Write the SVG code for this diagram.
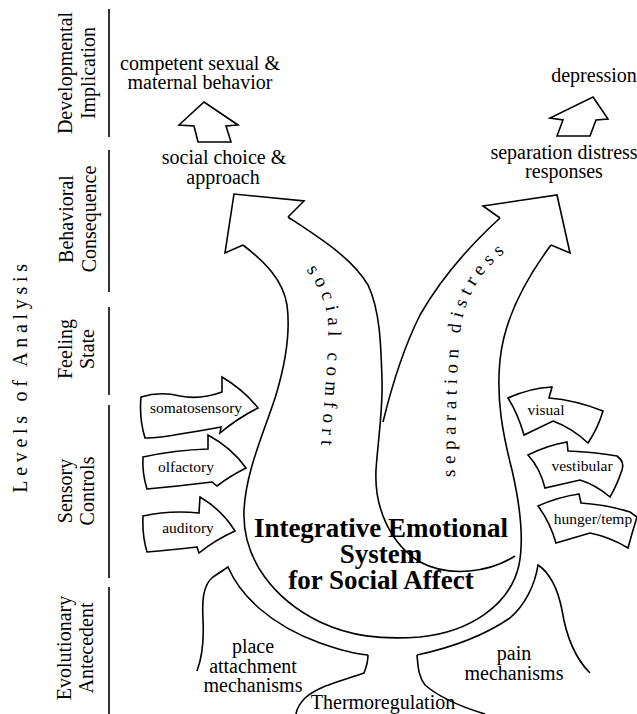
<svg xmlns="http://www.w3.org/2000/svg" width="637" height="714" viewBox="0 0 637 714">
<style>
.t{font-family:"Liberation Serif","Times New Roman","DejaVu Serif",serif;font-size:20px;fill:#000}
.m{text-anchor:middle}
.sm{font-size:15.5px}
.b{font-weight:bold;font-size:27px}
.sp{font-size:19px;letter-spacing:5.5px}
.ln{fill:none;stroke:#000;stroke-width:1.6;stroke-linejoin:miter}
.ar{fill:#fff;stroke:#000;stroke-width:1.6;stroke-linejoin:miter}
</style>
<defs>
<path id="pc" d="M 300,262 C 315,280 327,300 328,325 C 329,360 324,400 320,460"/>
<path id="pd" d="M 455,485 C 455,420 457,350 462,320 C 470,285 490,260 520,242"/>
</defs>
<rect width="637" height="714" fill="#fff"/>

<g id="levels">
<text class="t" letter-spacing="4.7" transform="translate(27,376) rotate(-90)" text-anchor="middle" font-size="19">Levels of Analysis</text>
<g id="lvl-dev">
<line class="ln" x1="109" y1="9" x2="109" y2="137"/>
<text class="t m" transform="translate(72,73) rotate(-90)"><tspan x="0" y="0">Developmental</tspan><tspan x="0" y="23">Implication</tspan></text>
</g>
<g id="lvl-beh">
<line class="ln" x1="109" y1="150" x2="109" y2="292"/>
<text class="t m" transform="translate(73,219) rotate(-90)"><tspan x="0" y="0">Behavioral</tspan><tspan x="0" y="23">Consequence</tspan></text>
</g>
<g id="lvl-feel">
<line class="ln" x1="109" y1="307" x2="109" y2="395"/>
<text class="t m" transform="translate(72,349) rotate(-90)"><tspan x="0" y="0">Feeling</tspan><tspan x="0" y="22">State</tspan></text>
</g>
<g id="lvl-sens">
<line class="ln" x1="109" y1="405" x2="109" y2="578"/>
<text class="t m" transform="translate(72,491) rotate(-90)"><tspan x="0" y="0">Sensory</tspan><tspan x="0" y="22">Controls</tspan></text>
</g>
<g id="lvl-evo">
<line class="ln" x1="109" y1="587" x2="109" y2="714"/>
<text class="t m" transform="translate(71,648) rotate(-90)"><tspan x="0" y="0">Evolutionary</tspan><tspan x="0" y="22">Antecedent</tspan></text>
</g>
</g>

<g id="top-left">
<text class="t m" x="200" y="70">competent sexual &amp;</text>
<text class="t m" x="200" y="89">maternal behavior</text>
<path class="ar" d="M 204,102 L 238,125 L 226,126 L 231,142 L 198,142 L 194,126 L 179,125 Z"/>
<text class="t m" x="224" y="164">social choice &amp;</text>
<text class="t m" x="223" y="184">approach</text>
</g>

<g id="top-right">
<text class="t m" x="594" y="82">depression</text>
<path class="ar" d="M 593,97 L 608,119 L 596,120 L 590,136 L 557,136 L 563,120 L 550,118 Z"/>
<text class="t m" x="564" y="159">separation distress</text>
<text class="t m" x="564" y="178">responses</text>
</g>

<g id="integrative-system">
<path class="ln" d="M 243,245 L 225,253 L 234,194 L 304,201 L 288,217"/>
<path class="ln" d="M 243,245 C 265,262 283,280 287,305 C 291,335 285,365 276,395 C 265,430 246,470 244,510 C 242,560 275,600 320,622 C 350,636 380,640 420,637 C 470,632 510,605 519,565 C 524,540 520,505 512,470 C 503,435 496,400 500,360 C 504,320 525,280 551,245"/>
<path class="ln" d="M 551,245 L 570,253 L 557,195 L 483,206 L 500,218"/>
<path class="ln" d="M 500,218 C 465,250 440,280 420,315 C 405,345 392,385 383,422"/>
<path class="ln" d="M 288,217 C 320,238 352,258 368,285 C 380,310 381,345 382,380 C 383,410 378,440 376,470 C 374,510 392,545 420,562 C 450,578 490,572 515,556"/>
<text class="t sp"><textPath href="#pc" startOffset="10">social comfort</textPath></text>
<text class="t sp"><textPath href="#pd" startOffset="8">separation distress</textPath></text>
<text class="t b m" x="381" y="537">Integrative Emotional</text>
<text class="t b m" x="381" y="563">System</text>
<text class="t b m" x="381" y="589">for Social Affect</text>
</g>

<g id="somatosensory">
<path class="ar" d="M 141,397 Q 160,391 180,396 Q 200,400 222,392 L 222,377 Q 244,390 258,408 Q 238,418 220,433 L 221,427 Q 200,431 180,434 Q 160,438 145,438 Q 139,418 141,397 Z"/>
<text class="t sm m" x="196" y="413">somatosensory</text>
</g>
<g id="olfactory">
<path class="ar" d="M 143,457 Q 175,450 208,449 L 208,435 Q 232,448 246,468 Q 230,476 217,486 L 212,482 Q 180,486 147,489 Q 142,473 143,457 Z"/>
<text class="t sm m" x="186" y="472">olfactory</text>
</g>
<g id="auditory">
<path class="ar" d="M 143,516 Q 170,510 199,513 L 200,497 Q 222,510 235,531 Q 215,540 199,553 L 197,547 Q 170,550 147,552 Q 142,535 143,516 Z"/>
<text class="t sm m" x="188" y="533">auditory</text>
</g>
<g id="visual">
<path class="ar" d="M 508,398 Q 530,388 552,387 L 549,398 Q 575,400 603,411 Q 598,428 588,443 Q 572,428 553,421 L 524,435 Q 518,414 508,398 Z"/>
<text class="t sm m" x="546" y="415">visual</text>
</g>
<g id="vestibular">
<path class="ar" d="M 528,455 Q 548,445 567,442 L 568,451 Q 595,452 617,456 Q 625,462 622,470 Q 617,485 610,497 Q 596,485 580,480 L 545,488 Q 540,468 528,455 Z"/>
<text class="t sm m" x="582" y="471">vestibular</text>
</g>
<g id="hunger-temp">
<path class="ar" d="M 538,506 Q 558,497 579,494 L 581,503 Q 608,505 630,512 L 637,517 Q 632,533 628,548 Q 610,537 590,533 L 556,543 Q 550,522 538,506 Z"/>
<text class="t sm m" x="593" y="524">hunger/temp</text>
</g>

<g id="place-attachment">
<path class="ln" d="M 197,671 C 203,655 204,640 203,620 C 202,600 203,585 213,577 L 228,567 C 240,595 270,625 320,643 C 340,650 355,654 368,655"/>
<text class="t m" x="253" y="653">place</text>
<text class="t m" x="253" y="673">attachment</text>
<text class="t m" x="253" y="692">mechanisms</text>
</g>
<g id="thermoregulation">
<path class="ln" d="M 368,655 C 368,662 366,668 364,673 C 345,680 320,685 305,698 C 300,703 297,708 296,714"/>
<path class="ln" d="M 485,714 C 465,708 440,698 425,685 C 418,676 418,665 417,655"/>
<text class="t m" x="383" y="709">Thermoregulation</text>
</g>
<g id="pain">
<path class="ln" d="M 417,655 C 450,648 485,635 510,618 C 525,605 535,585 538,565 C 550,573 558,590 562,610 C 566,635 575,658 590,673"/>
<text class="t m" x="514" y="660">pain</text>
<text class="t m" x="514" y="680">mechanisms</text>
</g>
</svg>
